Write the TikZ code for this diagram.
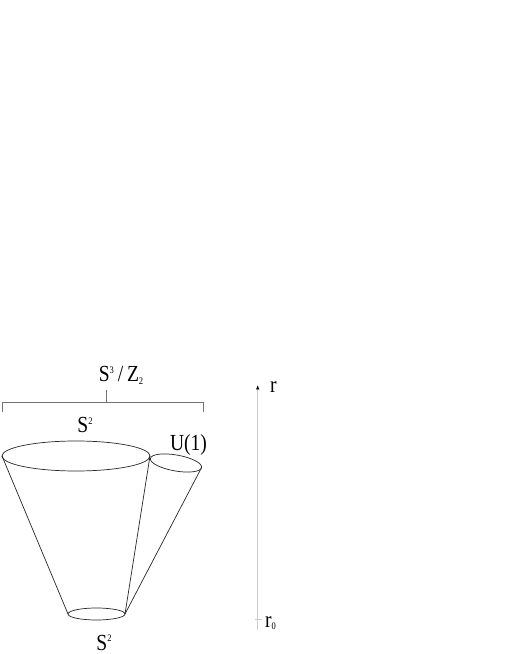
\documentclass[tikz,border=0pt]{standalone}
\usepackage{fontspec}
\setmainfont{Liberation Serif}
\newfontfamily\lblfont[FakeStretch=0.85]{Liberation Serif}
\usetikzlibrary{arrows.meta}
\tikzset{>={Latex[length=4.5pt,width=3.5pt,black]}}

% small raised / lowered digits
\newcommand\supdig[1]{\raisebox{0.38em}{\fontsize{10pt}{10pt}\selectfont #1}}
\newcommand\subdig[1]{\raisebox{-0.12em}{\fontsize{10pt}{10pt}\selectfont #1}}

\tikzset{
  cone/.style={draw=black!85,line width=0.7pt},
  brace/.style={draw=black!55,line width=0.7pt},
  axisline/.style={draw=black!20,line width=0.8pt},
  lbl/.style={font=\lblfont\fontsize{23pt}{23pt}\selectfont,inner sep=0pt},
}

\begin{document}
\begin{tikzpicture}[x=1pt,y=1pt]
  \useasboundingbox (0,0) rectangle (506,654);
  % sizes
  \def\bx{76}    \def\by{198}  % big circle centre
  \def\brx{74}   \def\bry{15}  % big circle radii
  \def\sx{96.5}  \def\sy{40}   % small bottom circle centre
  \def\srx{28.5} \def\sry{6}   % small bottom circle radii
  \def\ux{176}   \def\uy{191}  % U(1) circle centre
  \def\urx{26}   \def\ury{8}   % U(1) circle radii
  \def\ua{-10}                 % U(1) circle tilt
  \def\ax{257.7}               % x of the r axis

  % circles
  \draw[cone] (\bx,\by) ellipse [x radius=\brx,y radius=\bry];
  \draw[cone] (\sx,\sy) ellipse [x radius=\srx,y radius=\sry];
  \draw[cone,rotate around={\ua:(\ux,\uy)}] (\ux,\uy) ellipse [x radius=\urx,y radius=\ury];

  % rim points
  \coordinate (bigW) at ({\bx-\brx},\by);
  \coordinate (bigE) at ({\bx+\brx},\by);
  \coordinate (botW) at ({\sx-\srx},\sy);
  \coordinate (botE) at ({\sx+\srx},\sy);
  \coordinate (uoneE) at ([shift={(\ua:\urx)}]\ux,\uy);

  % cone sides
  \draw[cone] (bigW) -- (botW);
  \draw[cone] (bigE) -- (botE);
  \draw[cone] (uoneE) -- (botE);

  % bracket
  \coordinate (brL) at (2,242);
  \coordinate (brLt) at (2,252);
  \coordinate (brR) at (203,242);
  \coordinate (brRt) at (203,252);
  \coordinate (brM) at (106,252);
  \coordinate (brMt) at (106,264);
  \draw[brace] (brL) -- (brLt) -- (brRt) -- (brR);
  \draw[brace] (brM) -- (brMt);

  % labels
  \node[lbl,anchor=base] (sthree) at (121,272) {S\supdig{3}\,/\,Z\subdig{2}};
  \node[lbl,anchor=base] (stwotop) at (85,221) {S\supdig{2}};
  \node[lbl,anchor=base] (uone) at (188.5,203) {U(1)};
  \node[lbl,anchor=base] (stwobot) at (104,4) {S\supdig{2}};

  % axis
  \coordinate (rbot) at (\ax,24);
  \coordinate (rtop) at (\ax,269);
  \coordinate (tickL) at ({\ax-3},35);
  \coordinate (tickR) at ({\ax+4},35);
  \draw[axisline,->] (rbot) -- (rtop);
  \draw[axisline] (tickL) -- (tickR);
  \node[lbl,anchor=base west] (rlab) at (270,261) {r};
  \node[lbl,anchor=base west] (rzero) at (265,27) {r\subdig{0}};
\end{tikzpicture}
\end{document}
